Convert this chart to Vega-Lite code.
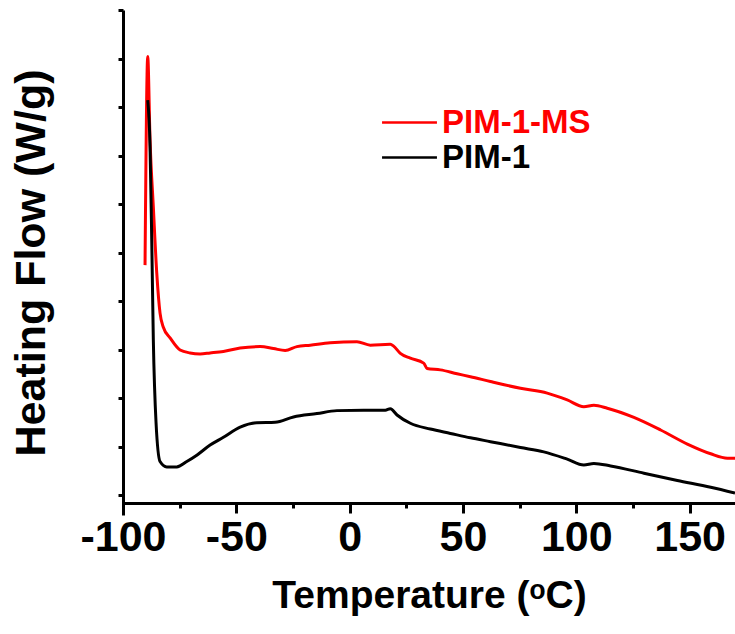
{
  "$schema": "https://vega.github.io/schema/vega-lite/v6.json",
  "width": 612,
  "height": 505,
  "autosize": "none",
  "padding": {"left": 123, "top": 10, "right": 0, "bottom": 119},
  "background": "white",
  "config": {
    "view": {"stroke": null},
    "axis": {"grid": false, "domainColor": "black", "tickColor": "black", "domainWidth": 3, "tickWidth": 3, "labelColor": "black", "titleColor": "black"}
  },
  "data": {
    "values": [
      {"series": "PIM-1-MS", "T": -90.28, "v": 4.74},
      {"series": "PIM-1-MS", "T": -89.09, "v": 9.04},
      {"series": "PIM-1-MS", "T": -88.07, "v": 7.32},
      {"series": "PIM-1-MS", "T": -86.62, "v": 5.94},
      {"series": "PIM-1-MS", "T": -85.11, "v": 4.58},
      {"series": "PIM-1-MS", "T": -83.66, "v": 3.75},
      {"series": "PIM-1-MS", "T": -82.2, "v": 3.46},
      {"series": "PIM-1-MS", "T": -79.24, "v": 3.24},
      {"series": "PIM-1-MS", "T": -74.82, "v": 2.99},
      {"series": "PIM-1-MS", "T": -70.41, "v": 2.93},
      {"series": "PIM-1-MS", "T": -65.99, "v": 2.91},
      {"series": "PIM-1-MS", "T": -61.57, "v": 2.93},
      {"series": "PIM-1-MS", "T": -55.7, "v": 2.96},
      {"series": "PIM-1-MS", "T": -48.32, "v": 3.03},
      {"series": "PIM-1-MS", "T": -39.49, "v": 3.06},
      {"series": "PIM-1-MS", "T": -33.61, "v": 3.02},
      {"series": "PIM-1-MS", "T": -28.45, "v": 2.98},
      {"series": "PIM-1-MS", "T": -23.28, "v": 3.06},
      {"series": "PIM-1-MS", "T": -17.4, "v": 3.09},
      {"series": "PIM-1-MS", "T": -8.57, "v": 3.14},
      {"series": "PIM-1-MS", "T": 3.22, "v": 3.16},
      {"series": "PIM-1-MS", "T": 9.1, "v": 3.09},
      {"series": "PIM-1-MS", "T": 17.93, "v": 3.11},
      {"series": "PIM-1-MS", "T": 19.39, "v": 3.07},
      {"series": "PIM-1-MS", "T": 22.35, "v": 2.92},
      {"series": "PIM-1-MS", "T": 26.77, "v": 2.82},
      {"series": "PIM-1-MS", "T": 32.64, "v": 2.72},
      {"series": "PIM-1-MS", "T": 34.14, "v": 2.61},
      {"series": "PIM-1-MS", "T": 40.02, "v": 2.58},
      {"series": "PIM-1-MS", "T": 47.39, "v": 2.5},
      {"series": "PIM-1-MS", "T": 53.27, "v": 2.44},
      {"series": "PIM-1-MS", "T": 62.1, "v": 2.34},
      {"series": "PIM-1-MS", "T": 75.35, "v": 2.2},
      {"series": "PIM-1-MS", "T": 87.15, "v": 2.1},
      {"series": "PIM-1-MS", "T": 95.98, "v": 1.96},
      {"series": "PIM-1-MS", "T": 103.31, "v": 1.82},
      {"series": "PIM-1-MS", "T": 107.73, "v": 1.85},
      {"series": "PIM-1-MS", "T": 113.65, "v": 1.79},
      {"series": "PIM-1-MS", "T": 125.4, "v": 1.6},
      {"series": "PIM-1-MS", "T": 137.19, "v": 1.34},
      {"series": "PIM-1-MS", "T": 148.98, "v": 1.05},
      {"series": "PIM-1-MS", "T": 159.28, "v": 0.85},
      {"series": "PIM-1-MS", "T": 166.65, "v": 0.76},
      {"series": "PIM-1-MS", "T": 170, "v": 0.76},
      {"series": "PIM-1", "T": -89.09, "v": 8.14},
      {"series": "PIM-1", "T": -88.07, "v": 7.18},
      {"series": "PIM-1", "T": -87.32, "v": 5.26},
      {"series": "PIM-1", "T": -86.62, "v": 3.2},
      {"series": "PIM-1", "T": -85.42, "v": 1.49},
      {"series": "PIM-1", "T": -83.66, "v": 0.69},
      {"series": "PIM-1", "T": -80.7, "v": 0.58},
      {"series": "PIM-1", "T": -76.28, "v": 0.58},
      {"series": "PIM-1", "T": -71.86, "v": 0.69},
      {"series": "PIM-1", "T": -67.45, "v": 0.82},
      {"series": "PIM-1", "T": -61.57, "v": 1.03},
      {"series": "PIM-1", "T": -55.7, "v": 1.19},
      {"series": "PIM-1", "T": -48.32, "v": 1.4},
      {"series": "PIM-1", "T": -40.95, "v": 1.49},
      {"series": "PIM-1", "T": -32.86, "v": 1.5},
      {"series": "PIM-1", "T": -24.78, "v": 1.61},
      {"series": "PIM-1", "T": -14.44, "v": 1.68},
      {"series": "PIM-1", "T": -5.61, "v": 1.74},
      {"series": "PIM-1", "T": 6.14, "v": 1.75},
      {"series": "PIM-1", "T": 15.72, "v": 1.75},
      {"series": "PIM-1", "T": 17.93, "v": 1.78},
      {"series": "PIM-1", "T": 20.89, "v": 1.65},
      {"series": "PIM-1", "T": 26.77, "v": 1.48},
      {"series": "PIM-1", "T": 35.6, "v": 1.36},
      {"series": "PIM-1", "T": 44.43, "v": 1.27},
      {"series": "PIM-1", "T": 53.27, "v": 1.18},
      {"series": "PIM-1", "T": 62.1, "v": 1.1},
      {"series": "PIM-1", "T": 75.35, "v": 0.98},
      {"series": "PIM-1", "T": 85.64, "v": 0.89},
      {"series": "PIM-1", "T": 95.98, "v": 0.74},
      {"series": "PIM-1", "T": 103.31, "v": 0.62},
      {"series": "PIM-1", "T": 107.73, "v": 0.65},
      {"series": "PIM-1", "T": 115.11, "v": 0.6},
      {"series": "PIM-1", "T": 129.81, "v": 0.45},
      {"series": "PIM-1", "T": 144.57, "v": 0.3},
      {"series": "PIM-1", "T": 159.28, "v": 0.16},
      {"series": "PIM-1", "T": 170, "v": 0.04}
    ]
  },
  "mark": {"type": "line", "strokeWidth": 3, "interpolate": "monotone", "clip": true},
  "encoding": {
    "x": {
      "field": "T",
      "type": "quantitative",
      "scale": {"domain": [-100, 170], "nice": false, "zero": false},
      "axis": {
        "values": [-100, -75, -50, -25, 0, 25, 50, 75, 100, 125, 150],
        "offset": -12,
        "tickSize": {"condition": {"test": "datum.value % 50 === 0", "value": 10}, "value": 5},
        "labelExpr": "datum.value % 50 === 0 ? '' + datum.value : ''",
        "labelFont": "Liberation Sans",
        "labelFontWeight": "bold",
        "labelFontSize": 43,
        "labelPadding": 3,
        "labelFlush": false,
        "labelOverlap": false,
        "title": "Temperature (ᵒC)",
        "titleFont": "Liberation Sans",
        "titleFontSize": 39,
        "titleFontWeight": "bold",
        "titlePadding": 17
      }
    },
    "y": {
      "field": "v",
      "type": "quantitative",
      "scale": {"domain": [-0.412, 10], "nice": false, "zero": false},
      "axis": {
        "values": [0, 1, 2, 3, 4, 5, 6, 7, 8, 9, 10],
        "labels": false,
        "tickSize": 5,
        "title": "Heating Flow (W/g)",
        "titleFont": "Liberation Sans",
        "titleFontSize": 43,
        "titleFontWeight": "bold",
        "titlePadding": 63
      }
    },
    "color": {
      "field": "series",
      "type": "nominal",
      "scale": {"domain": ["PIM-1-MS", "PIM-1"], "range": ["#ff0000", "#000000"]},
      "legend": {
        "title": null,
        "orient": "none",
        "legendX": 270,
        "legendY": 96,
        "padding": 0,
        "symbolType": "M-1.83,0H1.83",
        "symbolSize": 900,
        "symbolStrokeWidth": 2.5,
        "symbolFillColor": "transparent",
        "labelFont": "Liberation Sans",
        "labelFontWeight": "bold",
        "labelFontSize": 33,
        "labelOffset": 16,
        "labelLimit": 300,
        "rowPadding": 1,
        "encode": {
          "symbols": {"update": {"fill": {"value": "transparent"}, "strokeWidth": {"value": 2.5}}},
          "labels": {"update": {"fill": {"signal": "datum.value === 'PIM-1-MS' ? '#ff0000' : '#000000'"}}}
        }
      }
    }
  }
}
